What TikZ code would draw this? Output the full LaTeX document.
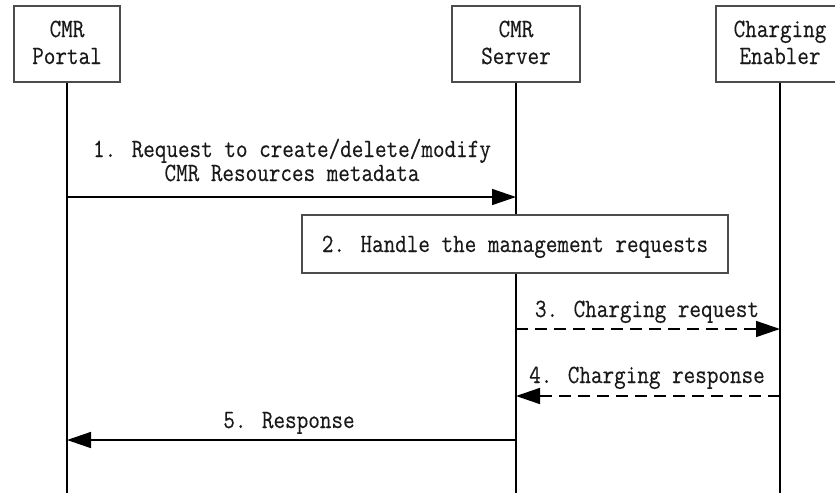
\documentclass[tikz,border=0pt]{standalone}
\usepackage{fontspec}
\usepackage{graphicx}
\usetikzlibrary{arrows.meta}
% typewriter face, slightly heavier and taller
\newfontfamily\seqfont{Latin Modern Mono}[RawFeature={embolden=0.35}]
\newcommand\tallt[1]{\scalebox{1}[1.17]{#1}}
\tikzset{
  lane/.style={draw=black!70, line width=1.1pt, fill=white, minimum height=76pt, inner sep=0pt},
  stepbox/.style={draw=black!70, line width=1.1pt, fill=white, inner sep=0pt},
  life/.style={line width=1.5pt},
  txt/.style={font=\fontsize{22.5}{25}\selectfont\seqfont, text=black!90, anchor=base, inner sep=0pt},
  msg/.style={line width=1.5pt, -{Triangle[length=24pt,width=16pt]}},
  dmsg/.style={msg, dash pattern=on 12pt off 7pt},
}
\begin{document}
\begin{tikzpicture}[x=1pt,y=-1pt]
\useasboundingbox (0,0) rectangle (835,493);
\clip (0,0) rectangle (835,493);

% participants
\node[lane, minimum width=106pt] (portal) at (67,44) {};
\node[lane, minimum width=128pt] (server) at (516,44) {};
\node[lane, minimum width=128pt] (enabler) at (780,44) {};

\node[txt] (portalA) at (67,37) {\tallt{CMR}};
\node[txt] (portalB) at (67,64) {\tallt{Portal}};
\node[txt] (serverA) at (516,37) {\tallt{CMR}};
\node[txt] (serverB) at (516,64) {\tallt{Server}};
\node[txt] (enablerA) at (780,37) {\tallt{Charging}};
\node[txt] (enablerB) at (780,64) {\tallt{Enabler}};

% lifelines
\coordinate (portalEnd) at (67,493);
\coordinate (serverEnd) at (516,493);
\coordinate (enablerEnd) at (780,493);
\draw[life] (portal.south) -- (portalEnd);
\draw[life] (server.south) -- (serverEnd);
\draw[life] (enabler.south) -- (enablerEnd);

% 1. management request
\coordinate (p1) at (67,197);
\coordinate (s1) at (516,197);
\draw[msg] (p1) -- (s1);
\node[txt] (m1a) at (292,157) {\tallt{1. Request to create/delete/modify}};
\node[txt] (m1b) at (292,181) {\tallt{CMR Resources metadata}};

% 2. local handling
\node[stepbox, minimum width=426pt, minimum height=58pt] (handle) at (515,244) {};
\node[txt] (m2) at (515,252) {\tallt{2. Handle the management requests}};

% 3. charging request
\coordinate (s3) at (516,329);
\coordinate (e3) at (780,329);
\draw[dmsg] (s3) -- (e3);
\node[txt] (m3) at (647,317) {\tallt{3. Charging request}};

% 4. charging response
\coordinate (e4) at (780,396);
\coordinate (s4) at (516,396);
\draw[dmsg] (e4) -- (s4);
\node[txt] (m4) at (647,383) {\tallt{4. Charging response}};

% 5. response
\coordinate (s5) at (516,440);
\coordinate (p5) at (67,440);
\draw[msg] (s5) -- (p5);
\node[txt] (m5) at (289,428) {\tallt{5. Response}};
\end{tikzpicture}
\end{document}
